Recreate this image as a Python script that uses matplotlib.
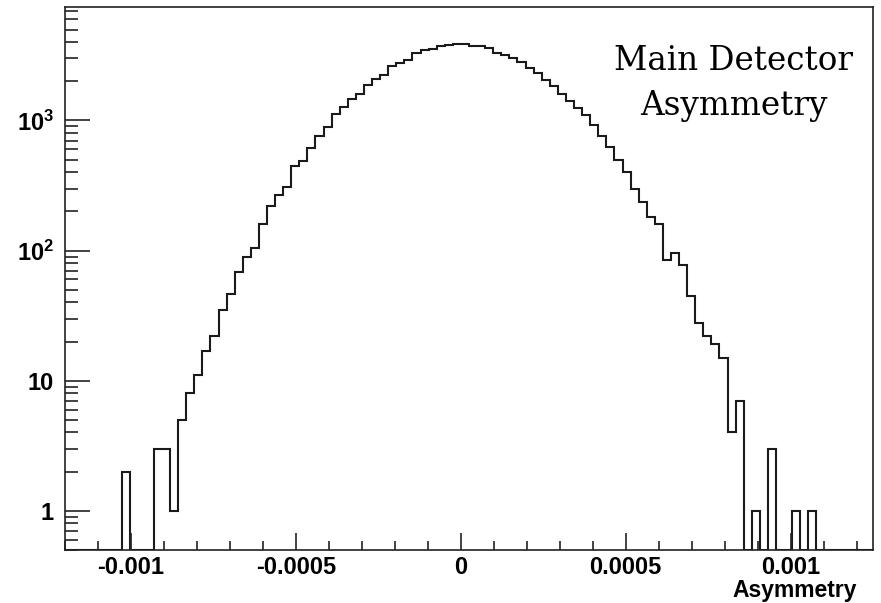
import numpy as np
import matplotlib
matplotlib.use("Agg")
import matplotlib.pyplot as plt
from matplotlib.ticker import FixedLocator, MultipleLocator, NullFormatter

# histogram: 100 bins between x_lo and x_hi
x_lo = -0.0012
x_hi = 0.00125
counts = [
    0, 0, 0, 0, 0, 0, 0, 2, 0, 0,
    0, 3, 3, 1, 5, 8, 11, 17, 22, 35,
    46, 69, 90, 104, 160, 221, 266, 308, 444, 486,
    618, 759, 885, 1114, 1268, 1469, 1606, 1860, 2093, 2219,
    2602, 2760, 2930, 3315, 3453, 3513, 3705, 3818, 3883, 3883,
    3724, 3724, 3593, 3315, 3200, 3000, 2800, 2550, 2300, 2050,
    1850, 1600, 1400, 1250, 1100, 920, 760, 620, 500, 400,
    300, 236, 180, 160, 84, 96, 77, 45, 28, 22,
    19, 15, 4, 7, 0, 1, 0, 3, 0, 0,
    1, 0, 1, 0, 0, 0, 0, 0, 0, 0,
]
y_ticks = [1, 10, 100, 1000]
y_labels = ["1", "10", "$10^{2}$", "$10^{3}$"]
x_ticks = [-0.001, -0.0005, 0, 0.0005, 0.001]
x_labels = ["-0.001", "-0.0005", "0", "0.0005", "0.001"]

plt.rcParams["font.family"] = "Liberation Sans"
plt.rcParams["font.weight"] = "bold"
plt.rcParams["mathtext.fontset"] = "custom"
plt.rcParams["mathtext.rm"] = "Liberation Sans:bold"
plt.rcParams["mathtext.it"] = "Liberation Sans:bold"
plt.rcParams["mathtext.bf"] = "Liberation Sans:bold"

ymin, ymax = 0.5, 7450
edges = np.linspace(x_lo, x_hi, len(counts) + 1)
vals = np.array(counts, dtype=float)
vals[vals <= 0] = ymin  # empty bins sit on the floor like in ROOT

fig = plt.figure(figsize=(8.81, 6.03), dpi=100)
ax = fig.add_axes([65 / 881, 53 / 603, 808 / 881, 543 / 603])
ax.stairs(vals, edges, baseline=ymin, color="#1a1a1a", linewidth=1.5)

ax.set_yscale("log")
ax.set_ylim(ymin, ymax)
ax.set_xlim(x_lo, x_hi)

ax.yaxis.set_major_locator(FixedLocator(y_ticks))
ax.set_yticklabels(y_labels)
ax.yaxis.set_minor_locator(FixedLocator(
    [m * 10 ** e for e in range(-1, 4) for m in range(2, 10)]))
ax.yaxis.set_minor_formatter(NullFormatter())
ax.set_xticks(x_ticks)
ax.set_xticklabels(x_labels)
ax.xaxis.set_minor_locator(MultipleLocator(0.0001))

ax.tick_params(axis="both", which="both", direction="in", top=False,
               right=False, labelsize=17, color="#222222", width=1.2)
ax.tick_params(axis="x", which="major", length=12, pad=4)
ax.tick_params(axis="x", which="minor", length=6.5)
ax.tick_params(axis="y", which="major", length=18, pad=8)
ax.tick_params(axis="y", which="minor", length=9.5)
for s in ax.spines.values():
    s.set_linewidth(1.2)
    s.set_color("#222222")

fig.text(857 / 881, 1 - 597 / 603, "Asymmetry", ha="right", va="baseline",
         fontsize=16.5, fontweight="bold")

fig.text(734 / 881, 1 - 70 / 603, "Main Detector", ha="center", va="baseline",
         family="DejaVu Serif", fontweight="normal", fontsize=23.5)
fig.text(734 / 881, 1 - 115 / 603, "Asymmetry", ha="center", va="baseline",
         family="DejaVu Serif", fontweight="normal", fontsize=23.5)

fig.savefig("out.png", dpi=100)
